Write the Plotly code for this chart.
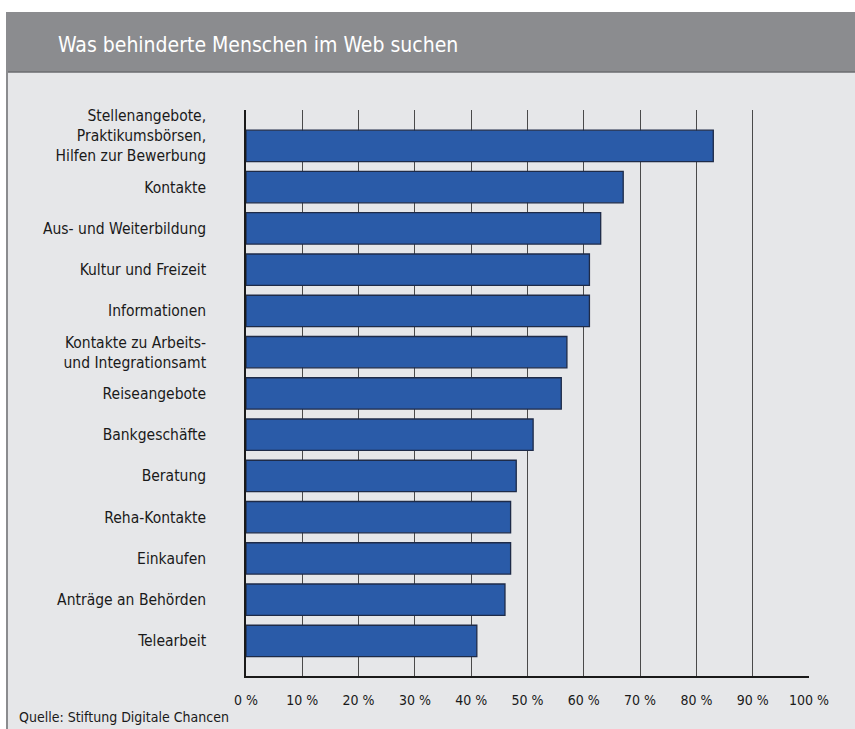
import plotly.graph_objects as go

categories = [
    "Stellenangebote,<br>Praktikumsbörsen,<br>Hilfen zur Bewerbung<br>&nbsp;",
    "Kontakte",
    "Aus- und Weiterbildung",
    "Kultur und Freizeit",
    "Informationen",
    "Kontakte zu Arbeits-<br>und Integrationsamt",
    "Reiseangebote",
    "Bankgeschäfte",
    "Beratung",
    "Reha-Kontakte",
    "Einkaufen",
    "Anträge an Behörden",
    "Telearbeit",
]
values = [83, 67, 63, 61, 61, 57, 56, 51, 48, 47, 47, 46, 41]
tick_vals = [0, 10, 20, 30, 40, 50, 60, 70, 80, 90, 100]
tick_text = [f"{v} %" for v in tick_vals]

title = "Was behinderte Menschen im Web suchen"
source = "Quelle: Stiftung Digitale Chancen"

FONT = "Liberation Sans Narrow, DejaVu Sans Condensed, Arial Narrow, sans-serif"

W, H = 855, 729
L, R, T, B = 246, 46, 110, 53
pw, ph = W - L - R, H - T - B

def px(x):
    return (x - L) / pw

def py(y):
    return (H - B - y) / ph

fig = go.Figure()
fig.add_trace(go.Bar(
    x=values,
    y=list(range(len(categories))),
    orientation="h",
    width=0.76,
    marker=dict(color="#2a5ba8", line=dict(color="#1e2b48", width=1.3)),
    hoverinfo="x",
))

shapes = [
    dict(type="rect", xref="paper", yref="paper", x0=px(7), x1=px(W + 5), y0=py(72), y1=py(H + 5),
         fillcolor="#e6e7e9", line=dict(width=0), layer="below"),
    dict(type="rect", xref="paper", yref="paper", x0=px(7), x1=px(W + 5), y0=py(12), y1=py(72),
         fillcolor="#8b8c8f", line=dict(width=0), layer="below"),
    dict(type="line", xref="paper", yref="paper", x0=px(7), x1=px(W + 5), y0=py(72), y1=py(72),
         line=dict(color="#6b6c6f", width=1.5), layer="below"),
    dict(type="line", xref="paper", yref="paper", x0=px(7), x1=px(7), y0=py(12), y1=py(H + 5),
         line=dict(color="#8b8c8f", width=2), layer="below"),
]

annotations = [
    dict(text=title, xref="paper", yref="paper", x=px(56), y=py(45), xanchor="left", yanchor="middle",
         showarrow=False, font=dict(family=FONT, size=21, color="white")),
    dict(text=source, xref="paper", yref="paper", x=px(17), y=py(717), xanchor="left", yanchor="middle",
         showarrow=False, font=dict(family=FONT, size=14, color="#1a1a1a")),
]

fig.update_layout(
    width=W, height=H,
    margin=dict(l=L, r=R, t=T, b=B, pad=0),
    paper_bgcolor="white",
    plot_bgcolor="rgba(0,0,0,0)",
    showlegend=False,
    shapes=shapes,
    annotations=annotations,
    font=dict(family=FONT, color="#1a1a1a"),
    xaxis=dict(
        range=[0, 100], tickvals=tick_vals, ticktext=tick_text,
        showgrid=True, gridcolor="#4a4a4a", gridwidth=1,
        zeroline=False, showline=True, linecolor="#1a1a1a", linewidth=1.5,
        ticks="outside", ticklen=10, tickcolor="rgba(0,0,0,0)",
        tickfont=dict(family=FONT, size=14, color="#1a1a1a"),
        fixedrange=True,
    ),
    yaxis=dict(
        range=[12.85, -0.87], tickvals=list(range(len(categories))), ticktext=categories,
        showgrid=False, zeroline=False, showline=True, linecolor="#1a1a1a", linewidth=1.5,
        ticks="", ticklabelstandoff=35,
        tickfont=dict(family=FONT, size=15.5, color="#1a1a1a"),
        fixedrange=True,
    ),
    bargap=0.24,
)

fig.write_html("out.html")
